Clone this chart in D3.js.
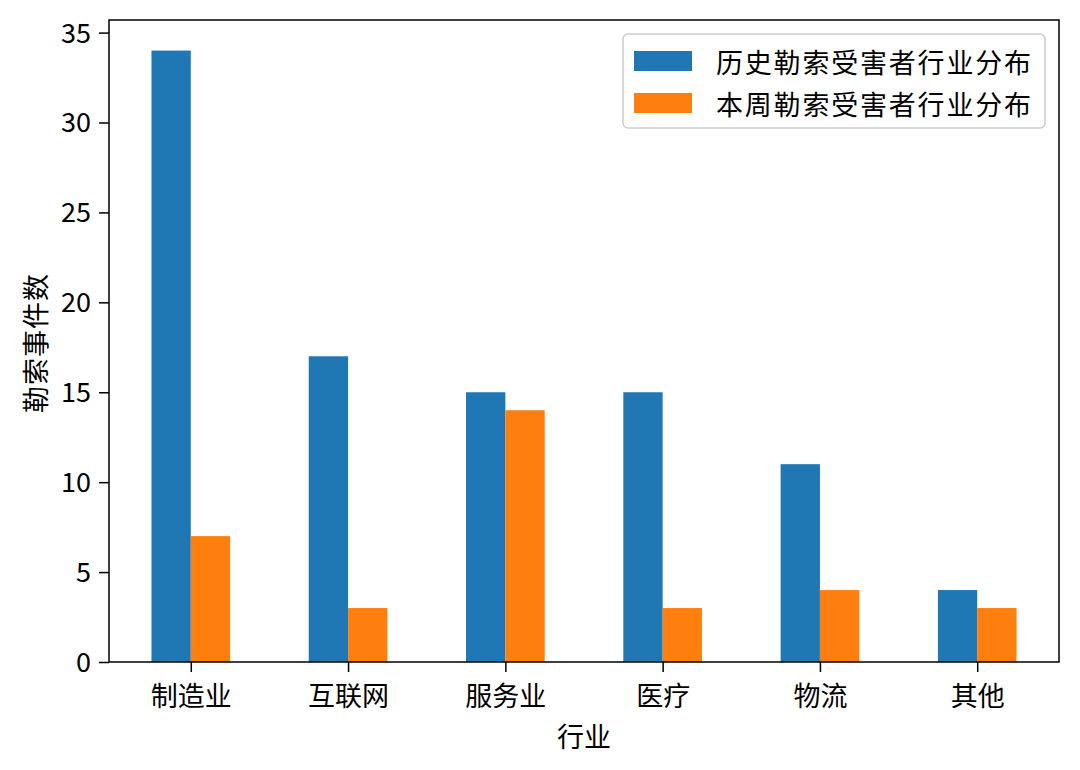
<!DOCTYPE html>
<html>
<head>
<meta charset="utf-8">
<script src="https://cdn.jsdelivr.net/npm/d3@7"></script>
<style>
  html, body { margin: 0; padding: 0; background: #fff; }
  svg { display: block; }
  text { font-family: "Noto Sans CJK SC", sans-serif; fill: #000; }
</style>
</head>
<body>
<svg id="chart" width="1080" height="770"></svg>
<script>
const categories = ["制造业", "互联网", "服务业", "医疗", "物流", "其他"];
const historyValues = [34, 17, 15, 15, 11, 4];
const weekValues = [7, 3, 14, 3, 4, 3];
const seriesNames = ["历史勒索受害者行业分布", "本周勒索受害者行业分布"];
const yTicks = [0, 5, 10, 15, 20, 25, 30, 35];
const colors = ["#1f77b4", "#ff7f0e"];

const svg = d3.select("#chart");
const plot = { left: 109, right: 1059, top: 20, bottom: 662 };
const fontSize = 27;

const x = d3.scaleLinear().domain([-0.52, categories.length - 0.48]).range([plot.left, plot.right]);
const y = d3.scaleLinear().domain([0, 35.7]).range([plot.bottom, plot.top]);
const barW = 0.25;

const series = [historyValues, weekValues];
series.forEach((vals, si) => {
  svg.append("g").selectAll("rect").data(vals).join("rect")
    .attr("x", (d, i) => x(i - barW + si * barW))
    .attr("width", x(barW) - x(0))
    .attr("y", d => y(d))
    .attr("height", d => y(0) - y(d))
    .attr("fill", colors[si]);
});

// axes
const xAxis = d3.axisBottom(x).tickValues(d3.range(categories.length))
  .tickFormat(i => categories[i]).tickSize(10).tickPadding(8);
const gx = svg.append("g").attr("transform", `translate(0,${plot.bottom})`).call(xAxis);
gx.select(".domain").remove();
gx.selectAll(".tick line").attr("stroke", "#000").attr("stroke-width", 1.5);
gx.selectAll(".tick text").attr("font-size", fontSize).attr("font-family", "Noto Sans CJK SC").attr("dy", "0.95em");

const yAxis = d3.axisLeft(y).tickValues(yTicks).tickSize(10).tickPadding(8);
const gy = svg.append("g").attr("transform", `translate(${plot.left},0)`).call(yAxis);
gy.select(".domain").remove();
gy.selectAll(".tick line").attr("stroke", "#000").attr("stroke-width", 1.5);
gy.selectAll(".tick text").attr("font-size", fontSize).attr("font-family", "Noto Sans CJK SC").attr("dy", "0.35em");

// frame
svg.append("rect")
  .attr("x", plot.left).attr("y", plot.top)
  .attr("width", plot.right - plot.left).attr("height", plot.bottom - plot.top)
  .attr("fill", "none").attr("stroke", "#000").attr("stroke-width", 1.5);

// axis labels
svg.append("text").attr("x", (plot.left + plot.right) / 2).attr("y", 735)
  .attr("text-anchor", "middle").attr("dominant-baseline", "central")
  .attr("font-size", fontSize).text("行业");
svg.append("text")
  .attr("transform", `translate(34,${(plot.top + plot.bottom) / 2 + 2}) rotate(-90)`)
  .attr("text-anchor", "middle").attr("dominant-baseline", "central")
  .attr("font-size", fontSize).attr("letter-spacing", 1).text("勒索事件数");

// legend
const lg = svg.append("g");
lg.append("rect").attr("x", 623).attr("y", 34).attr("width", 422).attr("height", 94)
  .attr("rx", 5).attr("fill", "#fff").attr("fill-opacity", 0.8)
  .attr("stroke", "#cccccc").attr("stroke-width", 1.5);
seriesNames.forEach((name, i) => {
  const cy = 61 + i * 42;
  lg.append("rect").attr("x", 634).attr("y", cy - 10).attr("width", 58).attr("height", 20).attr("fill", colors[i]);
  lg.append("text").attr("x", 716).attr("y", cy).attr("dominant-baseline", "central")
    .attr("font-size", fontSize).attr("letter-spacing", 1.8).text(name);
});
</script>
</body>
</html>
